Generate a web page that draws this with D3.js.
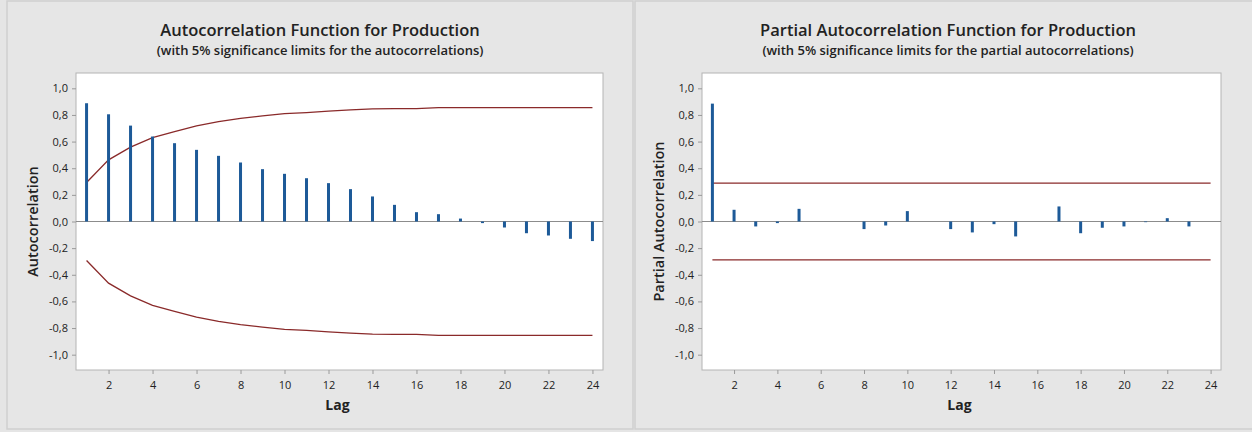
<!DOCTYPE html>
<html>
<head>
<meta charset="utf-8">
<script src="https://cdn.jsdelivr.net/npm/d3@7"></script>
<style>
  html, body { margin: 0; padding: 0; background: #e5e5e5; }
  svg { display: block; }
  text { font-family: "Open Sans", "Noto Sans", sans-serif; }
</style>
</head>
<body>
<svg id="chart" width="1252" height="432"></svg>
<script>
// ---- Data ----
const lags = d3.range(1, 25);
const acfValues = [0.888, 0.805, 0.720, 0.638, 0.588, 0.538, 0.493, 0.443, 0.393, 0.358, 0.325, 0.288,
                   0.243, 0.188, 0.125, 0.070, 0.055, 0.022, -0.012, -0.045, -0.088, -0.105, -0.130, -0.147];
const acfLimits = [0.293, 0.463, 0.558, 0.630, 0.675, 0.718, 0.750, 0.775, 0.793, 0.810, 0.818, 0.828,
                   0.838, 0.845, 0.848, 0.848, 0.855, 0.855, 0.855, 0.855, 0.855, 0.855, 0.855, 0.855];
const pacfLags = d3.range(1, 24);
const pacfValues = [0.885, 0.088, -0.037, -0.012, 0.095, 0.0, 0.0, -0.057, -0.030, 0.078, 0.0, -0.057,
                    -0.082, -0.020, -0.112, 0.0, 0.113, -0.088, -0.047, -0.037, -0.005, 0.025, -0.037];
const pacfLimit = 0.288;
const xTicks = [2, 4, 6, 8, 10, 12, 14, 16, 18, 20, 22, 24];
const yTicks = [-1.0, -0.8, -0.6, -0.4, -0.2, 0.0, 0.2, 0.4, 0.6, 0.8, 1.0];
const titles = ["Autocorrelation Function for Production", "Partial Autocorrelation Function for Production"];
const subtitles = ["(with 5% significance limits for the autocorrelations)",
                   "(with 5% significance limits for the partial autocorrelations)"];
const yLabels = ["Autocorrelation", "Partial Autocorrelation"];
const xLabel = "Lag";

// ---- Drawing ----
const svg = d3.select("#chart");
const fmt = v => d3.format(".1f")(v).replace("\u2212", "-").replace(".", ",");
const barColor = "#1d5a98";
const limitColor = "#8a2a2a";

function panel(cfg) {
  const g = svg.append("g");
  // panel frame
  g.append("rect").attr("x", cfg.px).attr("y", cfg.py).attr("width", cfg.pw).attr("height", cfg.ph)
    .attr("fill", "#e6e6e6").attr("stroke", "#cfcfcf").attr("stroke-width", 1.5);

  const x = d3.scaleLinear().domain([0.52, 24.48]).range([cfg.left, cfg.right]);
  const y = d3.scaleLinear().domain([-1.115, 1.115]).range([cfg.bottom, cfg.top]);

  // plot area
  g.append("rect").attr("x", cfg.left).attr("y", cfg.top)
    .attr("width", cfg.right - cfg.left).attr("height", cfg.bottom - cfg.top)
    .attr("fill", "#ffffff").attr("stroke", "#b4b4b4").attr("stroke-width", 1);

  // axes
  const xAxis = d3.axisBottom(x).tickValues(xTicks).tickSize(4).tickFormat(d3.format("d"));
  const yAxis = d3.axisLeft(y).tickValues(yTicks).tickSize(4).tickFormat(fmt);
  const gx = g.append("g").attr("transform", `translate(0,${cfg.bottom})`).call(xAxis);
  const gy = g.append("g").attr("transform", `translate(${cfg.left},0)`).call(yAxis);
  [gx, gy].forEach(a => {
    a.select(".domain").remove();
    a.selectAll(".tick line").attr("stroke", "#9a9a9a");
    a.selectAll(".tick text").attr("fill", "#222").style("font-size", "11px")
      .style("font-family", "'Open Sans', sans-serif");
  });
  gx.selectAll(".tick text").attr("dy", "1.05em");
  gy.selectAll(".tick text").attr("dx", "-1px");

  // zero line
  g.append("line").attr("x1", cfg.left).attr("x2", cfg.right)
    .attr("y1", y(0)).attr("y2", y(0)).attr("stroke", "#8c8c8c").attr("stroke-width", 1);

  // significance limits
  const line = d3.line().x(d => x(d[0])).y(d => y(d[1]));
  const up = cfg.limLags.map((l, i) => [l, cfg.limits[i]]);
  const lo = cfg.limLags.map((l, i) => [l, -cfg.limits[i]]);
  [up, lo].forEach(pts => g.append("path").attr("d", line(pts)).attr("fill", "none")
    .attr("stroke", limitColor).attr("stroke-width", 1.3));

  // bars
  g.selectAll("rect.bar").data(cfg.lags.map((l, i) => [l, cfg.values[i]]).filter(d => d[1] !== 0))
    .enter().append("rect").attr("class", "bar")
    .attr("x", d => x(d[0]) - 1.5).attr("width", 3)
    .attr("y", d => Math.min(y(d[1]), y(0)))
    .attr("height", d => Math.abs(y(d[1]) - y(0)))
    .attr("fill", barColor);

  // titles
  g.append("text").attr("x", cfg.tx).attr("y", 36).attr("text-anchor", "middle")
    .style("font-size", "16.5px").style("font-weight", 600).attr("fill", "#222").text(cfg.title);
  g.append("text").attr("x", cfg.tx).attr("y", 55).attr("text-anchor", "middle")
    .style("font-size", "13px").style("font-weight", 600).attr("fill", "#222").text(cfg.subtitle);
  g.append("text").attr("x", (cfg.left + cfg.right) / 2 - 2).attr("y", 410).attr("text-anchor", "middle")
    .style("font-size", "14px").style("font-weight", 700).attr("fill", "#222").text(xLabel);
  g.append("text").attr("transform", `translate(${cfg.ylx},${(cfg.top + cfg.bottom) / 2}) rotate(-90)`)
    .attr("text-anchor", "middle")
    .style("font-size", "14.5px").style("font-weight", 600).attr("fill", "#222").text(cfg.ylabel);
}

panel({
  px: 7, py: 1, pw: 626, ph: 428,
  left: 76, right: 603, top: 73, bottom: 370,
  lags: lags, values: acfValues, limLags: lags, limits: acfLimits,
  title: titles[0], subtitle: subtitles[0], ylabel: yLabels[0], tx: 320, ylx: 38
});
panel({
  px: 635, py: 1, pw: 622, ph: 428,
  left: 702, right: 1221, top: 73, bottom: 370,
  lags: pacfLags, values: pacfValues, limLags: [1, 24], limits: [pacfLimit, pacfLimit],
  title: titles[1], subtitle: subtitles[1], ylabel: yLabels[1], tx: 948, ylx: 664
});
</script>
</body>
</html>
